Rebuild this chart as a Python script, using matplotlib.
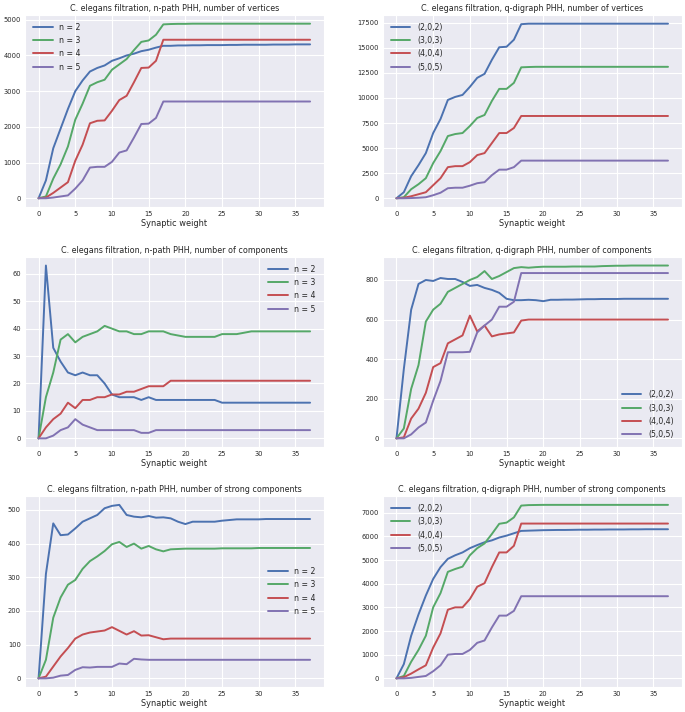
import matplotlib
matplotlib.use("Agg")
import matplotlib.pyplot as plt
import seaborn as sns

sns.set_style("darkgrid")
plt.rcParams['font.family'] = ['DejaVu Sans']
plt.rcParams['font.stretch'] = 'condensed'

weight = list(range(38))

# n-path PHH, number of vertices
pv_2 = [0, 500, 1400, 1950, 2500, 3000, 3300, 3550, 3650, 3720, 3850, 3920, 4000, 4050, 4120, 4160, 4220, 4270, 4270, 4280,
        4280, 4285, 4285, 4290, 4290, 4290, 4295, 4295, 4300, 4300, 4300, 4300, 4305, 4305, 4305, 4310, 4310, 4310]
pv_3 = [0, 50, 550, 950, 1450, 2200, 2650, 3150, 3250, 3320, 3600, 3750, 3900, 4150, 4380, 4420, 4580, 4870, 4880, 4885,
        4885, 4890, 4890, 4890, 4890, 4890, 4890, 4890, 4890, 4890, 4890, 4890, 4890, 4890, 4890, 4890, 4890, 4890]
pv_4 = [0, 20, 150, 300, 450, 1050, 1500, 2100, 2170, 2180, 2450, 2750, 2870, 3250, 3650, 3660, 3850, 4440, 4440, 4440,
        4440, 4440, 4440, 4440, 4440, 4440, 4440, 4440, 4440, 4440, 4440, 4440, 4440, 4440, 4440, 4440, 4440, 4440]
pv_5 = [0, 0, 20, 50, 80, 270, 500, 860, 880, 880, 1020, 1280, 1340, 1700, 2080, 2090, 2250, 2710, 2710, 2710,
        2710, 2710, 2710, 2710, 2710, 2710, 2710, 2710, 2710, 2710, 2710, 2710, 2710, 2710, 2710, 2710, 2710, 2710]

# q-digraph PHH, number of vertices
qv_2 = [0, 600, 2200, 3300, 4500, 6500, 7900, 9800, 10100, 10300, 11100, 12000, 12400, 13800, 15050, 15100, 15800, 17350, 17400, 17400,
        17400, 17400, 17400, 17400, 17400, 17400, 17400, 17400, 17400, 17400, 17400, 17400, 17400, 17400, 17400, 17400, 17400, 17400]
qv_3 = [0, 100, 900, 1400, 2000, 3500, 4700, 6200, 6400, 6500, 7200, 8000, 8300, 9700, 10900, 10900, 11500, 13050, 13080, 13100,
        13100, 13100, 13100, 13100, 13100, 13100, 13100, 13100, 13100, 13100, 13100, 13100, 13100, 13100, 13100, 13100, 13100, 13100]
qv_4 = [0, 50, 200, 400, 600, 1300, 2000, 3100, 3200, 3200, 3600, 4300, 4500, 5500, 6500, 6500, 7000, 8200, 8200, 8200,
        8200, 8200, 8200, 8200, 8200, 8200, 8200, 8200, 8200, 8200, 8200, 8200, 8200, 8200, 8200, 8200, 8200, 8200]
qv_5 = [0, 0, 20, 50, 100, 300, 550, 1000, 1050, 1050, 1250, 1500, 1600, 2300, 2850, 2850, 3100, 3750, 3750, 3750,
        3750, 3750, 3750, 3750, 3750, 3750, 3750, 3750, 3750, 3750, 3750, 3750, 3750, 3750, 3750, 3750, 3750, 3750]

# n-path PHH, number of components
pc_2 = [0, 63, 33, 28, 24, 23, 24, 23, 23, 20, 16, 15, 15, 15, 14, 15, 14, 14, 14, 14,
        14, 14, 14, 14, 14, 13, 13, 13, 13, 13, 13, 13, 13, 13, 13, 13, 13, 13]
pc_3 = [0, 15, 24, 36, 38, 35, 37, 38, 39, 41, 40, 39, 39, 38, 38, 39, 39, 39, 38, 37.5,
        37, 37, 37, 37, 37, 38, 38, 38, 38.5, 39, 39, 39, 39, 39, 39, 39, 39, 39]
pc_4 = [0, 4, 7, 9, 13, 11, 14, 14, 15, 15, 16, 16, 17, 17, 18, 19, 19, 19, 21, 21,
        21, 21, 21, 21, 21, 21, 21, 21, 21, 21, 21, 21, 21, 21, 21, 21, 21, 21]
pc_5 = [0, 0, 1, 3, 4, 7, 5, 4, 3, 3, 3, 3, 3, 3, 2, 2, 3, 3, 3, 3,
        3, 3, 3, 3, 3, 3, 3, 3, 3, 3, 3, 3, 3, 3, 3, 3, 3, 3]

# q-digraph PHH, number of components
qc_2 = [0, 350, 650, 780, 800, 795, 810, 805, 805, 790, 770, 775, 760, 750, 735, 705, 698, 698, 700, 698,
        693, 700, 700, 701, 701, 702, 703, 703, 704, 704, 704, 705, 705, 705, 705, 705, 705, 705]
qc_3 = [0, 50, 250, 370, 590, 650, 680, 740, 760, 780, 800, 815, 845, 805, 820, 840, 860, 865, 862, 865,
        867, 867, 867, 867, 868, 868, 868, 868, 870, 871, 872, 872, 873, 873, 873, 873, 873, 873]
qc_4 = [0, 5, 100, 150, 230, 360, 380, 480, 500, 520, 620, 540, 570, 515, 525, 530, 535, 595, 600, 600,
        600, 600, 600, 600, 600, 600, 600, 600, 600, 600, 600, 600, 600, 600, 600, 600, 600, 600]
qc_5 = [0, 0, 20, 55, 80, 190, 290, 435, 435, 435, 437, 535, 570, 600, 665, 665, 690, 835, 835, 835,
        835, 835, 835, 835, 835, 835, 835, 835, 835, 835, 835, 835, 835, 835, 835, 835, 835, 835]

# n-path PHH, number of strong components
ps_2 = [0, 310, 460, 425, 427, 445, 465, 475, 485, 505, 512, 515, 485, 480, 478, 482, 477, 478, 475, 465,
        458, 465, 465, 465, 465, 468, 470, 472, 472, 472, 472, 473, 473, 473, 473, 473, 473, 473]
ps_3 = [0, 55, 180, 240, 278, 292, 325, 348, 362, 378, 398, 405, 390, 400, 385, 393, 383, 377, 383, 384,
        385, 385, 385, 385, 385, 386, 386, 386, 386, 386, 387, 387, 387, 387, 387, 387, 387, 387]
ps_4 = [0, 5, 35, 65, 90, 118, 130, 136, 139, 142, 152, 141, 130, 140, 127, 128, 122, 116, 118, 118,
        118, 118, 118, 118, 118, 118, 118, 118, 118, 118, 118, 118, 118, 118, 118, 118, 118, 118]
ps_5 = [0, 0, 2, 8, 10, 25, 33, 32, 34, 34, 34, 44, 42, 58, 56, 55, 55, 55, 55, 55,
        55, 55, 55, 55, 55, 55, 55, 55, 55, 55, 55, 55, 55, 55, 55, 55, 55, 55]

# q-digraph PHH, number of strong components
qs_2 = [0, 600, 1800, 2700, 3500, 4200, 4700, 5050, 5200, 5320, 5500, 5630, 5750, 5830, 5950, 6030, 6130, 6230, 6240, 6250,
        6260, 6265, 6270, 6270, 6275, 6280, 6280, 6285, 6285, 6290, 6290, 6290, 6295, 6295, 6300, 6300, 6300, 6300]
qs_3 = [0, 100, 700, 1200, 1800, 3000, 3600, 4500, 4620, 4720, 5200, 5500, 5700, 6100, 6530, 6580, 6800, 7300, 7320, 7325,
        7330, 7330, 7330, 7330, 7330, 7330, 7330, 7330, 7330, 7330, 7330, 7330, 7330, 7330, 7330, 7330, 7330, 7330]
qs_4 = [0, 50, 200, 380, 550, 1300, 1900, 2900, 3000, 3000, 3350, 3870, 4020, 4700, 5320, 5320, 5600, 6540, 6540, 6540,
        6540, 6540, 6540, 6540, 6540, 6540, 6540, 6540, 6540, 6540, 6540, 6540, 6540, 6540, 6540, 6540, 6540, 6540]
qs_5 = [0, 0, 20, 60, 100, 300, 550, 1000, 1030, 1030, 1200, 1500, 1600, 2150, 2650, 2650, 2850, 3470, 3470, 3470,
        3470, 3470, 3470, 3470, 3470, 3470, 3470, 3470, 3470, 3470, 3470, 3470, 3470, 3470, 3470, 3470, 3470, 3470]

n_labels = ["n = 2", "n = 3", "n = 4", "n = 5"]
q_labels = ["(2,0,2)", "(3,0,3)", "(4,0,4)", "(5,0,5)"]
colors = ["#4C72B0", "#55A868", "#C44E52", "#8172B2"]

panels = [
    ("C. elegans filtration, n-path PHH, number of vertices", [pv_2, pv_3, pv_4, pv_5], n_labels, "upper left"),
    ("C. elegans filtration, q-digraph PHH, number of vertices", [qv_2, qv_3, qv_4, qv_5], q_labels, "upper left"),
    ("C. elegans filtration, n-path PHH, number of components", [pc_2, pc_3, pc_4, pc_5], n_labels, "upper right"),
    ("C. elegans filtration, q-digraph PHH, number of components", [qc_2, qc_3, qc_4, qc_5], q_labels, "lower right"),
    ("C. elegans filtration, n-path PHH, number of strong components", [ps_2, ps_3, ps_4, ps_5], n_labels, "center right"),
    ("C. elegans filtration, q-digraph PHH, number of strong components", [qs_2, qs_3, qs_4, qs_5], q_labels, "upper left"),
]

# axes boxes in figure fraction: left, bottom, width, height
lefts = [0.0365, 0.559]
rows = [(0.7093, 0.2697), (0.3722, 0.267), (0.0351, 0.268)]

fig = plt.figure(figsize=(6.85, 7.12), dpi=100)
for i, (title, series, labels, loc) in enumerate(panels):
    b, h = rows[i // 2]
    l = lefts[i % 2]
    ax = fig.add_axes([l, b, 0.436, h])
    for s, lab, c in zip(series, labels, colors):
        ax.plot(weight, s, color=c, linewidth=1.4, label=lab)
    ax.set_title(title, fontsize=6.4, pad=3)
    ax.set_xlabel("Synaptic weight", fontsize=6.6, labelpad=1)
    ax.tick_params(labelsize=5.3, length=0, pad=3)
    ax.legend(loc=loc, fontsize=6.2, frameon=False, handlelength=2.3)

plt.savefig("out.png", dpi=100)
